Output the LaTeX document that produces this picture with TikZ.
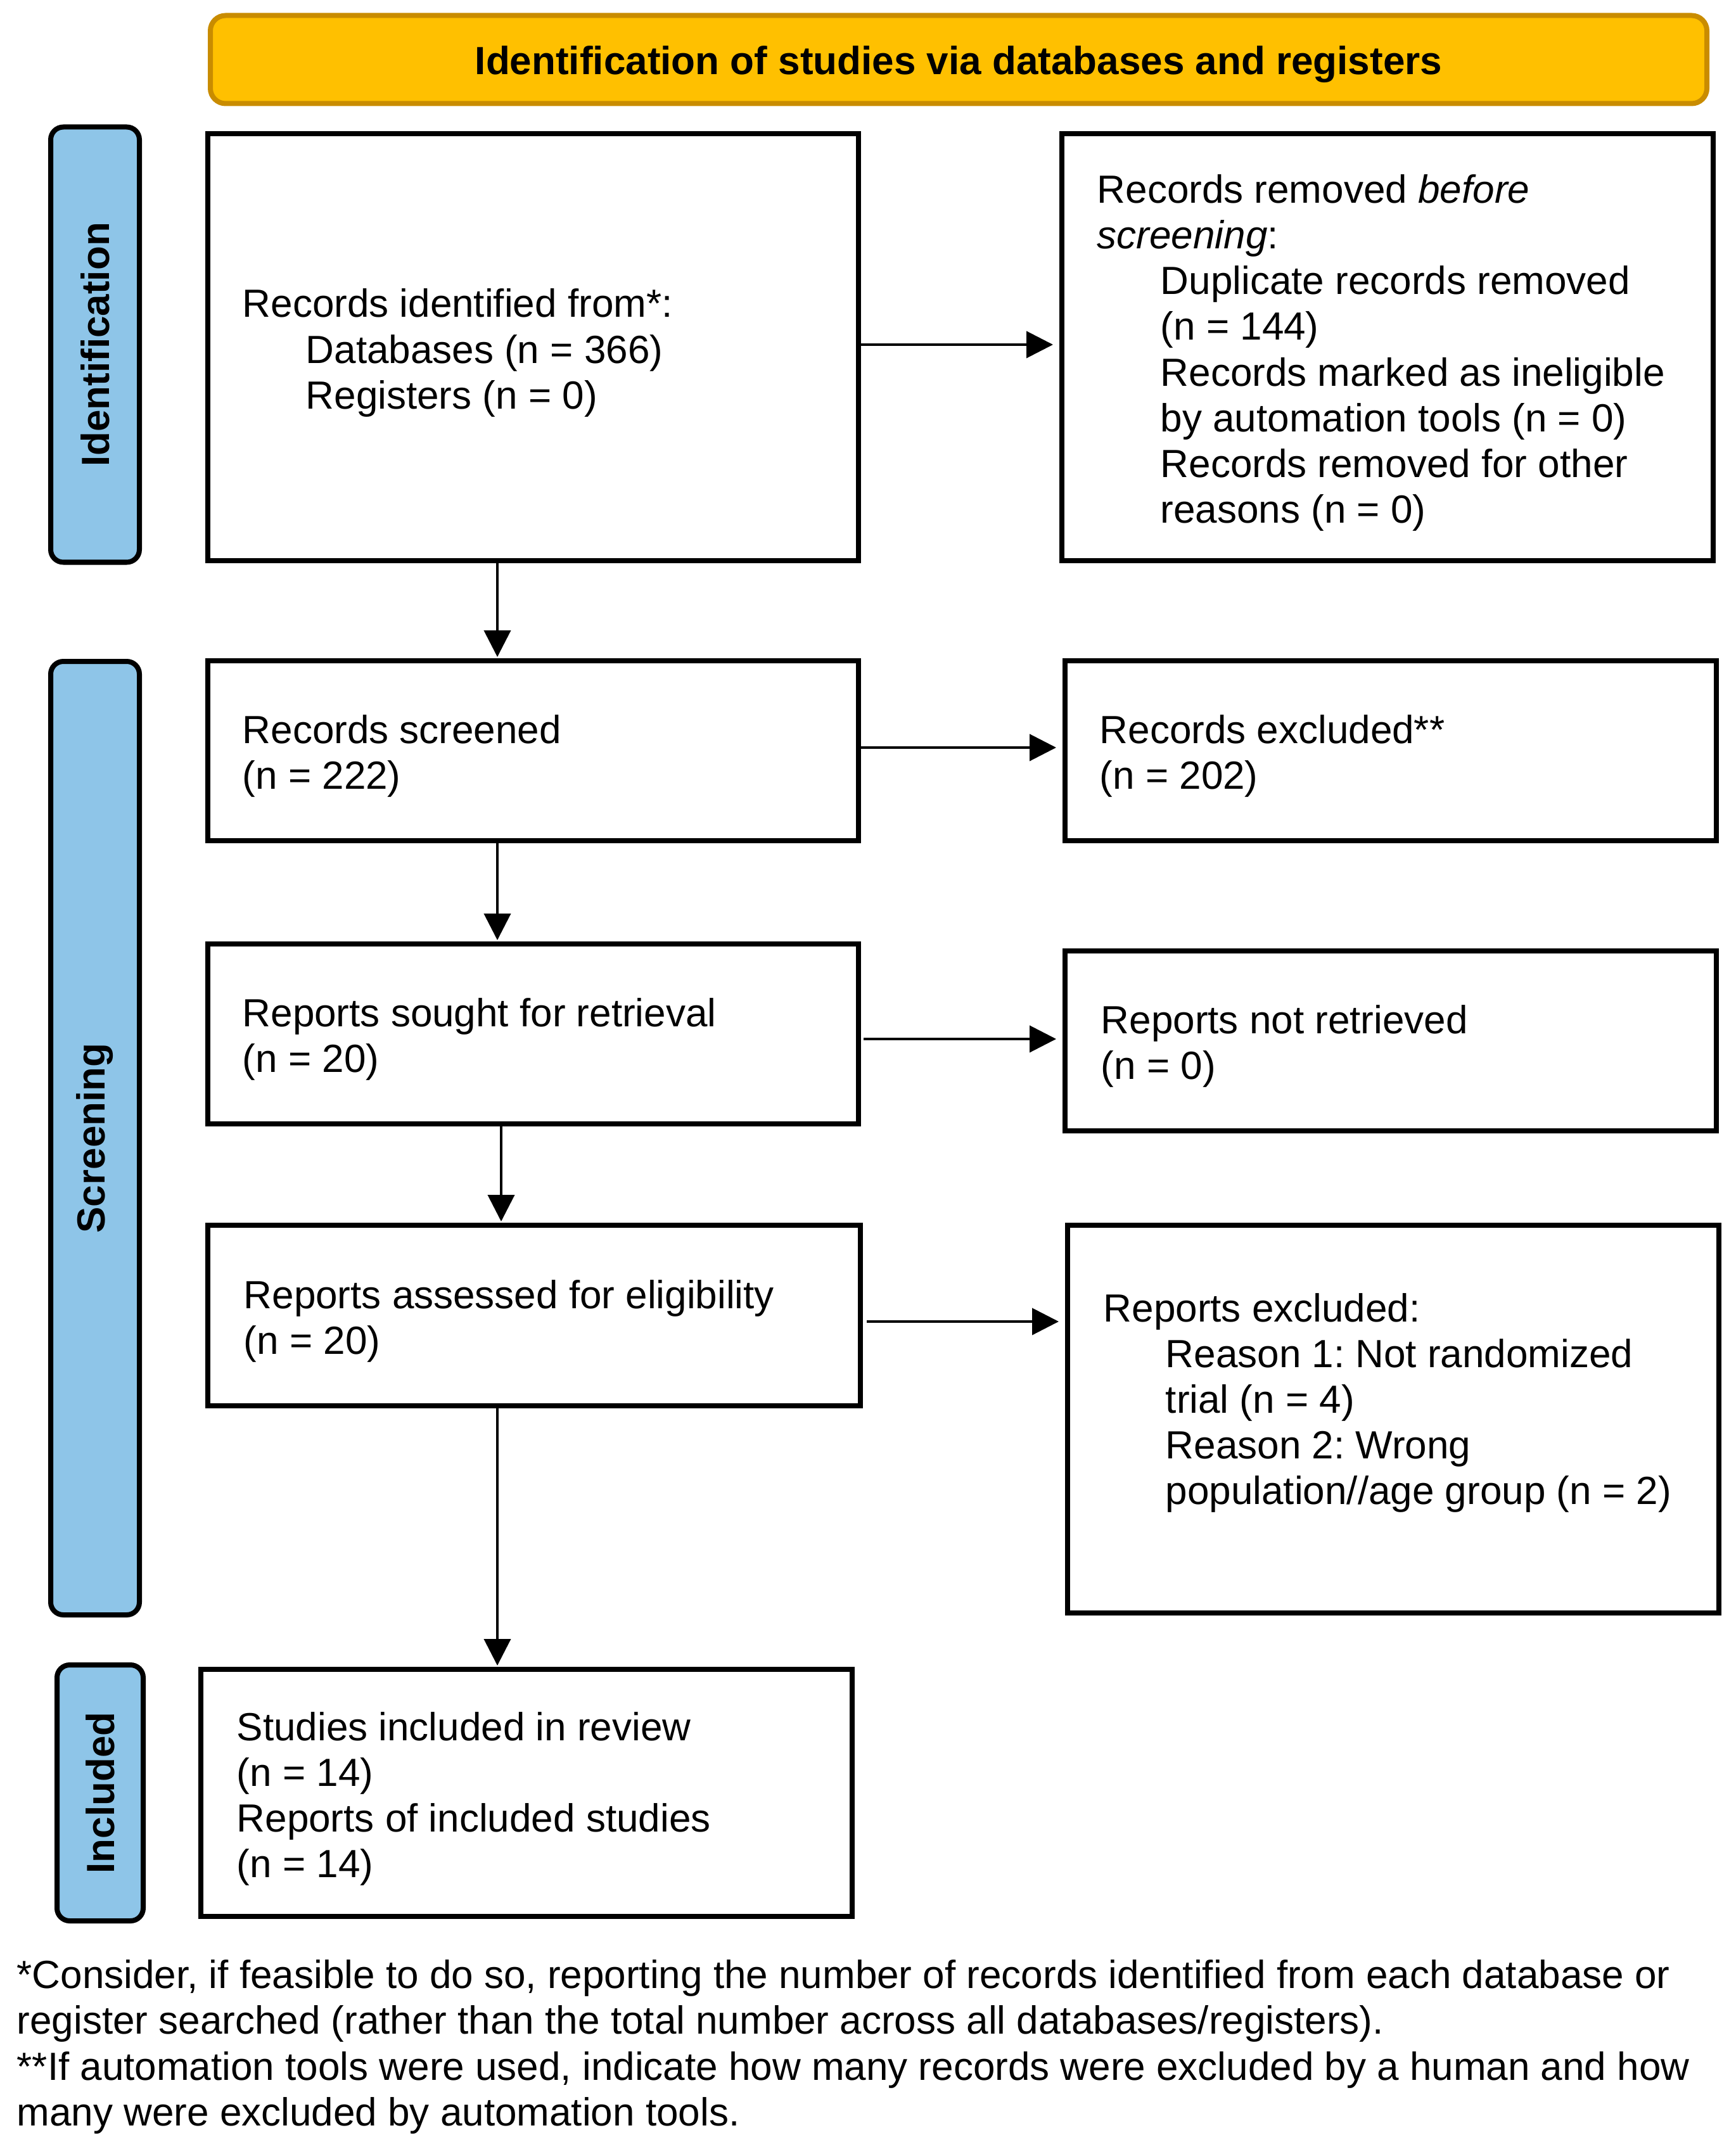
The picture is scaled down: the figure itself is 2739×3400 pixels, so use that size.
\documentclass[tikz,border=0pt]{standalone}
\usepackage{fontspec}
\setmainfont{Liberation Sans}
\frenchspacing
\usetikzlibrary{arrows.meta}
\definecolor{titlefill}{RGB}{255,192,0}
\definecolor{titledraw}{RGB}{201,140,0}
\definecolor{sidefill}{RGB}{142,197,232}
\begin{document}
\frenchspacing
\begin{tikzpicture}[x=0.25pt, y=-0.25pt,
  box/.style={draw, line width=2pt, rectangle, inner sep=0pt},
  side/.style={draw, line width=2pt, fill=sidefill, rounded corners=5pt, inner sep=0pt,
    font=\fontsize{15.5pt}{18.05pt}\selectfont\bfseries},
  titlebox/.style={draw=titledraw, line width=2pt, fill=titlefill, rounded corners=6pt, inner sep=0pt},
  titletxt/.style={inner sep=0pt, font=\fontsize{15.5pt}{18.05pt}\selectfont\bfseries},
  txt/.style={anchor=west, align=left, inner sep=0pt, font=\fontsize{15.5pt}{18.05pt}\selectfont},
  arr/.style={-{Triangle[length=10.5pt,width=10.5pt]}, line width=1pt}]
\useasboundingbox (0,0) rectangle (2739,3400);

% title
\node[titlebox, minimum width=590.5pt, minimum height=34.75pt] (title) at (1513,94) {};
\node[titletxt] (ttitle) at (1513,102) {Identification of studies via databases and registers};

% side labels
\node[side, rotate=90, minimum width=171.75pt, minimum height=35pt] (sid) at (150,544) {Identification};
\node[side, rotate=90, minimum width=376.25pt, minimum height=35pt] (sscr) at (150,1796.5) {Screening};
\node[side, rotate=90, minimum width=101pt, minimum height=34pt] (sinc) at (158,2830) {Included};

% boxes
\node[box, minimum width=256.75pt, minimum height=168.5pt] (A) at (841.5,548) {};
\node[box, minimum width=257pt, minimum height=168.5pt] (B) at (2190,548) {};
\node[box, minimum width=256.75pt, minimum height=71pt] (C) at (841.5,1185) {};
\node[box, minimum width=257pt, minimum height=71pt] (D) at (2195,1185) {};
\node[box, minimum width=256.75pt, minimum height=71pt] (E) at (841.5,1632) {};
\node[box, minimum width=257pt, minimum height=71pt] (F) at (2195,1643) {};
\node[box, minimum width=257.5pt, minimum height=71.25pt] (G) at (843,2076.5) {};
\node[box, minimum width=257pt, minimum height=153pt] (H) at (2199,2240) {};
\node[box, minimum width=257pt, minimum height=97.5pt] (I) at (831,2830) {};

% texts
\node[txt] (tA) at (382,557) {Records identified from*:\\\hspace*{25pt}Databases (n = 366)\\\hspace*{25pt}Registers (n = 0)};
\node[txt] (tB) at (1731,557) {Records removed \textit{before}\\\textit{screening}:\\
\hspace*{25pt}Duplicate records removed\\\hspace*{25pt}(n = 144)\\
\hspace*{25pt}Records marked as ineligible\\\hspace*{25pt}by automation tools (n = 0)\\
\hspace*{25pt}Records removed for other\\\hspace*{25pt}reasons (n = 0)};
\node[txt] (tC) at (382,1193.5) {Records screened\\(n = 222)};
\node[txt] (tD) at (1735,1193.5) {Records excluded**\\(n = 202)};
\node[txt] (tE) at (382,1640.5) {Reports sought for retrieval\\(n = 20)};
\node[txt] (tF) at (1737,1651.5) {Reports not retrieved\\(n = 0)};
\node[txt] (tG) at (384,2085.5) {Reports assessed for eligibility\\(n = 20)};
\node[txt] (tH) at (1741,2214.5) {Reports excluded:\\\hspace*{24.5pt}Reason 1: Not randomized\\\hspace*{24.5pt}trial (n = 4)\\\hspace*{24.5pt}Reason 2: Wrong\\\hspace*{24.5pt}population//age group (n = 2)};
\node[txt] (tI) at (373,2839.5) {Studies included in review\\(n = 14)\\Reports of included studies\\(n = 14)};
\node[txt] (fn) at (26,3231) {*Consider, if feasible to do so, reporting the number of records identified from each database or\\register searched (rather than the total number across all databases/registers).\\**If automation tools were used, indicate how many records were excluded by a human and how\\many were excluded by automation tools.};

% arrows
\draw[arr, shorten >=0.5pt] (A.south -| 785,0) -- (C.north -| 785,0);
\draw[arr, shorten >=0.5pt] (C.south -| 785,0) -- (E.north -| 785,0);
\draw[arr, shorten >=0.5pt] (E.south -| 791,0) -- (G.north -| 791,0);
\draw[arr, shorten >=0.5pt] (G.south -| 785,0) -- (I.north -| 785,0);
\draw[arr, shorten >=2.5pt] (A.east |- 0,544) -- (B.west |- 0,544);
\draw[arr, shorten >=2.5pt] (C.east |- 0,1180) -- (D.west |- 0,1180);
\draw[arr, shorten >=2.5pt, shorten <=1pt] (E.east |- 0,1640) -- (F.west |- 0,1640);
\draw[arr, shorten >=2.5pt, shorten <=1.5pt] (G.east |- 0,2086) -- (H.west |- 0,2086);
\end{tikzpicture}
\end{document}
